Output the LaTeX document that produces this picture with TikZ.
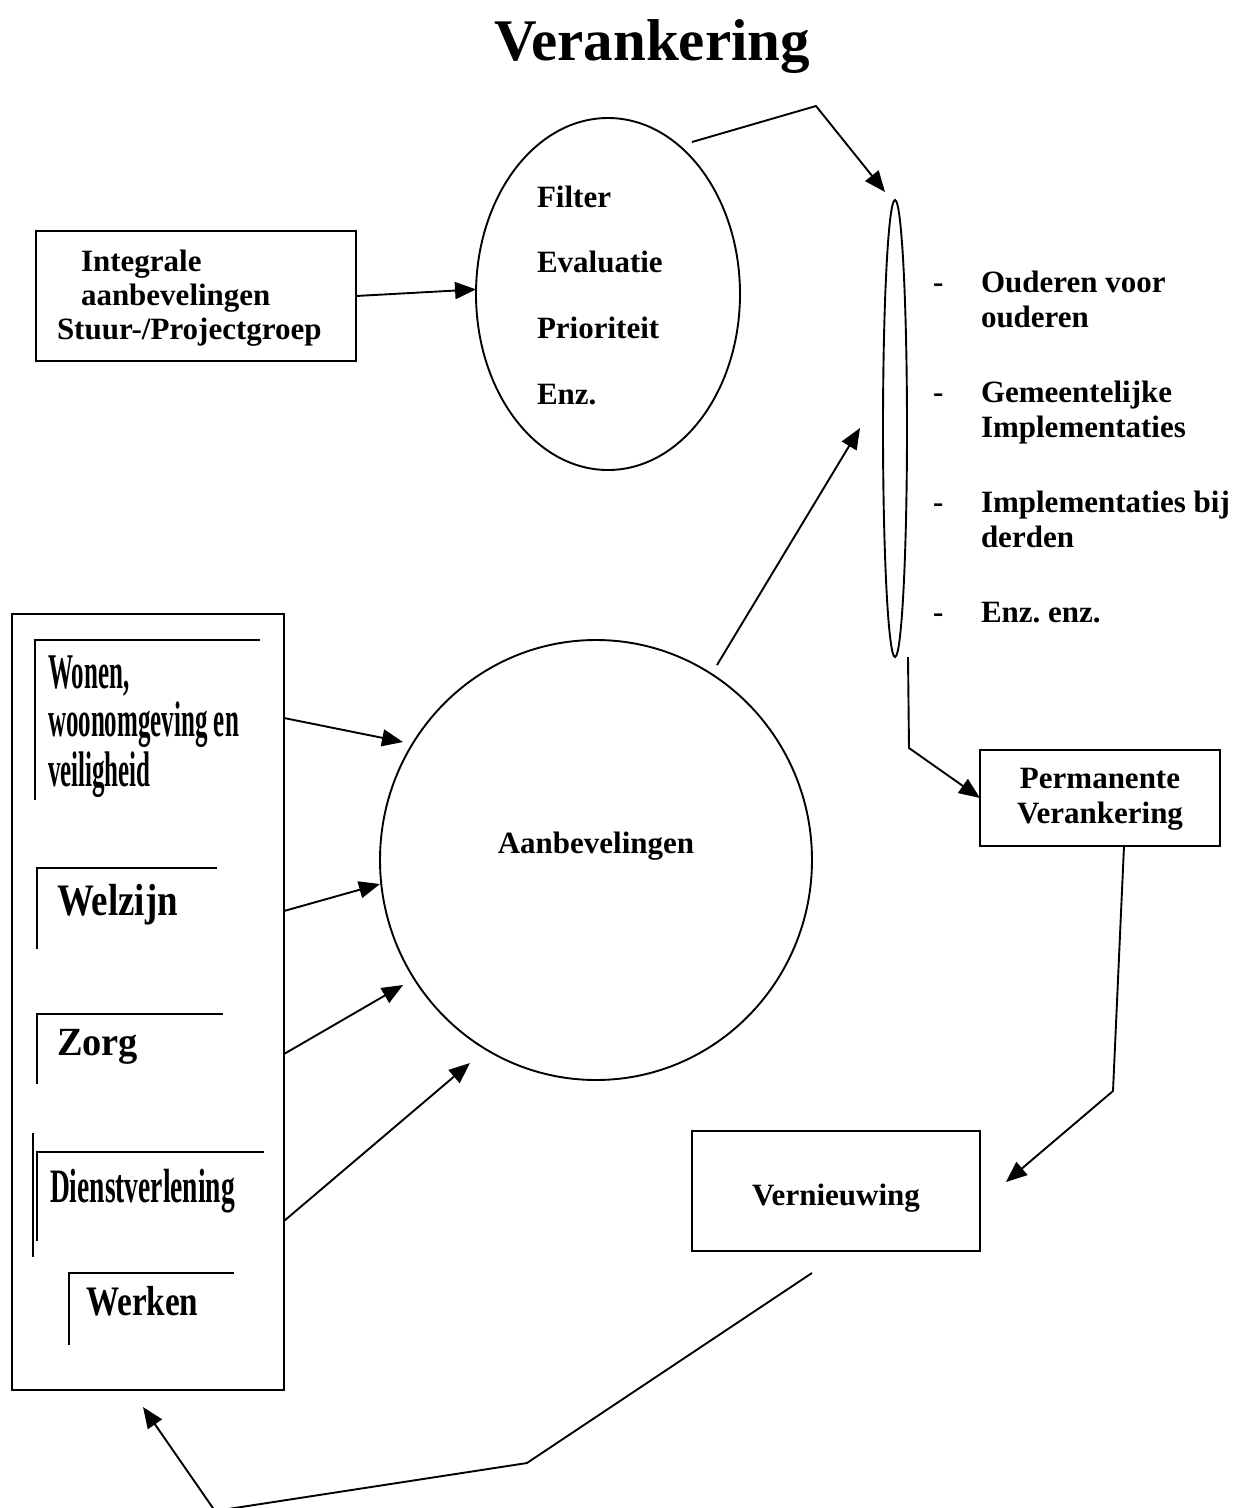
\documentclass[tikz,border=0pt]{standalone}
\usepackage{fontspec}
\setmainfont{Liberation Serif}
\usetikzlibrary{arrows.meta,shapes.geometric,calc}
\frenchspacing
\tikzset{
  ln/.style={line width=1.9pt, line join=miter},
  arr/.style={ln, -{Triangle[length=21pt,width=17pt]}},
  lbl/.style={font=\fontsize{31}{34}\selectfont\bfseries, inner sep=0pt, outer sep=0pt},
  shapebox/.style={draw, line width=1.9pt, rectangle, inner sep=0pt, outer sep=0pt},
  oval/.style={draw, line width=1.9pt, ellipse, inner sep=0pt, outer sep=0pt},
  themetext/.style={inner sep=0pt, outer sep=0pt, anchor=base west},
  bracket/.style={line width=1.9pt, line cap=butt},
}
\begin{document}
\begin{tikzpicture}[x=1pt,y=-1pt]
\useasboundingbox (0,0) rectangle (1240,1508);

% title
\node[font=\fontsize{59}{70}\selectfont\bfseries, anchor=base, inner sep=0pt] (title) at (652,60) {Verankering};

% shapes
\node[shapebox, minimum width=320pt, minimum height=130pt] (integ) at (196,296) {};
\node[oval, minimum width=264pt, minimum height=352pt] (filt) at (608,294) {};
\node[oval, minimum width=24pt, minimum height=457pt] (thin) at (895,428.5) {};
\node[oval, minimum width=432pt, minimum height=440pt] (aanb) at (596,860) {};
\node[shapebox, minimum width=240pt, minimum height=96pt] (perm) at (1100,798) {};
\node[shapebox, minimum width=288pt, minimum height=120pt] (vern) at (836,1191) {};
\node[shapebox, minimum width=272pt, minimum height=776pt] (thema) at (148,1002) {};

% texts: integrale box
\node[lbl, anchor=base west] (int1) at (81,271) {Integrale};
\node[lbl, anchor=base west] (int2) at (81,305) {aanbevelingen};
\node[lbl, anchor=base west] (int3) at (57,339) {Stuur-/Projectgroep};

% texts: filter ellipse
\node[lbl, anchor=base west] (fi1) at (537,207) {Filter};
\node[lbl, anchor=base west] (fi2) at (537,272) {Evaluatie};
\node[lbl, anchor=base west] (fi3) at (537,338) {Prioriteit};
\node[lbl, anchor=base west] (fi4) at (537,404) {Enz.};

% list
\node[lbl, anchor=base west] (d1) at (933,292) {-};
\node[lbl, anchor=base west] (l1a) at (981,292) {Ouderen voor};
\node[lbl, anchor=base west] (l1b) at (981,327) {ouderen};
\node[lbl, anchor=base west] (d2) at (933,402) {-};
\node[lbl, anchor=base west] (l2a) at (981,402) {Gemeentelijke};
\node[lbl, anchor=base west] (l2b) at (981,437) {Implementaties};
\node[lbl, anchor=base west] (d3) at (933,512) {-};
\node[lbl, anchor=base west] (l3a) at (981,512) {Implementaties bij};
\node[lbl, anchor=base west] (l3b) at (981,547) {derden};
\node[lbl, anchor=base west] (d4) at (933,622) {-};
\node[lbl, anchor=base west] (l4a) at (981,622) {Enz. enz.};

% other labels
\node[lbl, anchor=base] (aanbt) at (596,853) {Aanbevelingen};
\node[lbl, anchor=base] (perm1) at (1100,788) {Permanente};
\node[lbl, anchor=base] (perm2) at (1100,823) {Verankering};
\node[lbl, anchor=base] (vernt) at (836,1205) {Vernieuwing};

% theme texts in the left box
\node[themetext] (won1) at (48,688) {\fontsize{50}{50}\selectfont\bfseries\scalebox{0.5}[1]{Wonen,}};
\node[themetext] (won2) at (48,736) {\fontsize{50}{50}\selectfont\bfseries\scalebox{0.5}[1]{woonomgeving en}};
\node[themetext] (won3) at (48,786) {\fontsize{50}{50}\selectfont\bfseries\scalebox{0.5}[1]{veiligheid}};
\node[themetext] (welz) at (57,915) {\fontsize{45}{45}\selectfont\bfseries\scalebox{0.82}[1]{Welzijn}};
\node[themetext] (zorg) at (57,1055) {\fontsize{40}{40}\selectfont\bfseries\scalebox{0.96}[1]{Zorg}};
\node[themetext] (dien) at (50,1202) {\fontsize{48}{48}\selectfont\bfseries\scalebox{0.573}[1]{Dienstverlening}};
\node[themetext] (werk) at (86,1315) {\fontsize{42}{42}\selectfont\bfseries\scalebox{0.79}[1]{Werken}};

% brackets
\draw[bracket] (260,640) -- (35,640) -- (35,800);
\draw[bracket] (217,868) -- (37,868) -- (37,949);
\draw[bracket] (223,1014) -- (37,1014) -- (37,1084);
\draw[bracket, line width=2.6pt] (264,1152) -- (37,1152) -- (37,1241);
\draw[bracket] (33,1133) -- (33,1257);
\draw[bracket] (234,1273) -- (69,1273) -- (69,1345);

% connector points
\coordinate (f1) at (692,142);
\coordinate (b1) at (816,106);
\coordinate (a1) at (717,665);
\coordinate (t1) at (860,428);
\coordinate (b2) at (909,748);
\coordinate (b3) at (1113,1091);
\coordinate (t3) at (1006,1182);
\coordinate (s4) at (812,1273);
\coordinate (b4) at (527,1463);
\coordinate (b5) at (215,1511);
\coordinate (t4) at (143,1407);
\coordinate (tw1) at (403,742);
\coordinate (tw2) at (380,884);
\coordinate (tw3) at (403,985);
\coordinate (tw4) at (470,1063);

% connectors
\draw[arr] (integ.east) -- (filt.178);
\draw[arr] (f1) -- (b1) -- ([shift={(-10,-8)}]thin.north);
\draw[arr] (a1) -- (t1);
\draw[arr] ([xshift=13pt]thin.south) -- (b2) -- (perm.west);
\draw[arr] ([xshift=24pt]perm.south) -- (b3) -- (t3);
\draw[arr] (s4) -- (b4) -- (b5) -- (t4);
\draw[arr] ($(thema.north east)+(0,104)$) -- (tw1);
\draw[arr] ($(thema.north east)+(0,297)$) -- (tw2);
\draw[arr] ($(thema.north east)+(0,440)$) -- (tw3);
\draw[arr] ($(thema.north east)+(0,607)$) -- (tw4);
\end{tikzpicture}
\end{document}
